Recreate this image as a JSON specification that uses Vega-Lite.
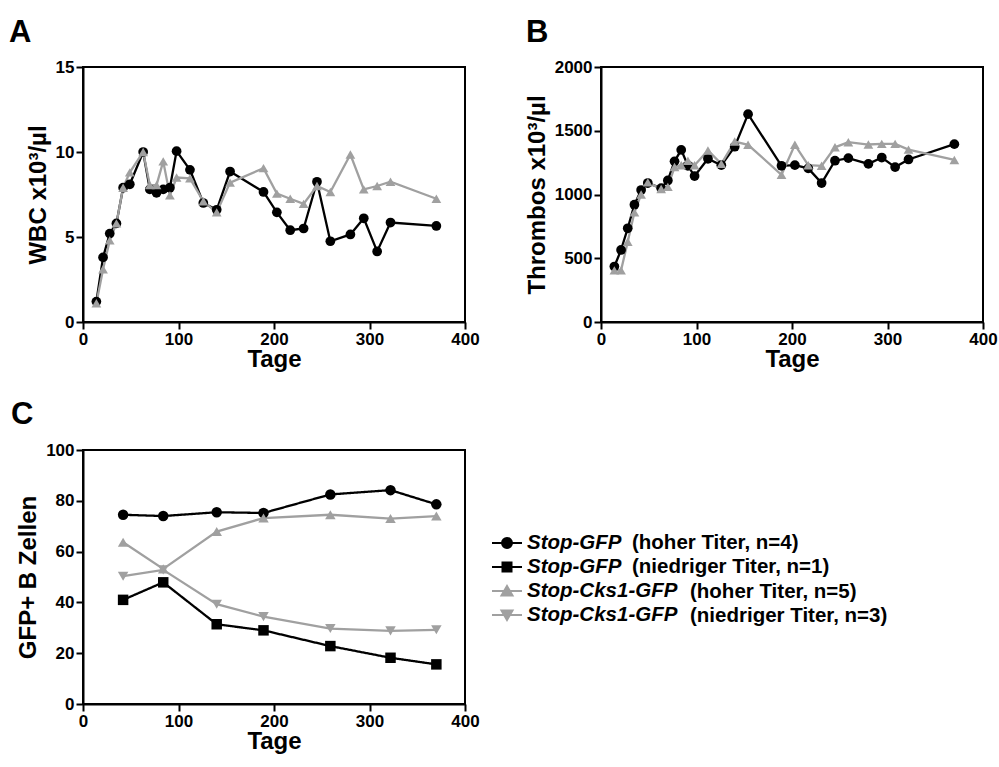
{
  "$schema": "https://vega.github.io/schema/vega-lite/v6.json",
  "background": "white",
  "padding": {"left": 8, "top": 16, "right": 0, "bottom": 0},
  "columns": 2,
  "spacing": {"row": 128, "column": 136},
  "bounds": "flush",
  "resolve": {
    "scale": {"color": "independent", "shape": "independent", "fill": "independent", "stroke": "independent", "strokeDash": "independent", "x": "independent", "y": "independent"},
    "legend": {"color": "independent", "shape": "independent", "fill": "independent", "stroke": "independent", "strokeDash": "independent"}
  },
  "datasets": {
    "blut": [
      {"tag": 14, "konstrukt": "Stop-GFP", "wbc": 1.2, "thrombos": 435},
      {"tag": 21, "konstrukt": "Stop-GFP", "wbc": 3.8, "thrombos": 565},
      {"tag": 28, "konstrukt": "Stop-GFP", "wbc": 5.2, "thrombos": 735},
      {"tag": 35, "konstrukt": "Stop-GFP", "wbc": 5.8, "thrombos": 920},
      {"tag": 42, "konstrukt": "Stop-GFP", "wbc": 7.9, "thrombos": 1035},
      {"tag": 49, "konstrukt": "Stop-GFP", "wbc": 8.1, "thrombos": 1090},
      {"tag": 63, "konstrukt": "Stop-GFP", "wbc": 10.0, "thrombos": 1050},
      {"tag": 70, "konstrukt": "Stop-GFP", "wbc": 7.8, "thrombos": 1110},
      {"tag": 77, "konstrukt": "Stop-GFP", "wbc": 7.6, "thrombos": 1260},
      {"tag": 84, "konstrukt": "Stop-GFP", "wbc": 7.8, "thrombos": 1350},
      {"tag": 91, "konstrukt": "Stop-GFP", "wbc": 7.9, "thrombos": 1225},
      {"tag": 98, "konstrukt": "Stop-GFP", "wbc": 10.05, "thrombos": 1145},
      {"tag": 112, "konstrukt": "Stop-GFP", "wbc": 8.95, "thrombos": 1280},
      {"tag": 126, "konstrukt": "Stop-GFP", "wbc": 7.0, "thrombos": 1230},
      {"tag": 140, "konstrukt": "Stop-GFP", "wbc": 6.6, "thrombos": 1375},
      {"tag": 154, "konstrukt": "Stop-GFP", "wbc": 8.85, "thrombos": 1630},
      {"tag": 189, "konstrukt": "Stop-GFP", "wbc": 7.65, "thrombos": 1225},
      {"tag": 203, "konstrukt": "Stop-GFP", "wbc": 6.45, "thrombos": 1230},
      {"tag": 217, "konstrukt": "Stop-GFP", "wbc": 5.4, "thrombos": 1205},
      {"tag": 231, "konstrukt": "Stop-GFP", "wbc": 5.5, "thrombos": 1090},
      {"tag": 245, "konstrukt": "Stop-GFP", "wbc": 8.25, "thrombos": 1265},
      {"tag": 259, "konstrukt": "Stop-GFP", "wbc": 4.75, "thrombos": 1285},
      {"tag": 280, "konstrukt": "Stop-GFP", "wbc": 5.15, "thrombos": 1240},
      {"tag": 294, "konstrukt": "Stop-GFP", "wbc": 6.1, "thrombos": 1290},
      {"tag": 308, "konstrukt": "Stop-GFP", "wbc": 4.15, "thrombos": 1215},
      {"tag": 322, "konstrukt": "Stop-GFP", "wbc": 5.85, "thrombos": 1275},
      {"tag": 370, "konstrukt": "Stop-GFP", "wbc": 5.65, "thrombos": 1395},
      {"tag": 14, "konstrukt": "Stop-Cks1-GFP", "wbc": 1.1, "thrombos": 405},
      {"tag": 21, "konstrukt": "Stop-Cks1-GFP", "wbc": 3.1, "thrombos": 405},
      {"tag": 28, "konstrukt": "Stop-Cks1-GFP", "wbc": 4.8, "thrombos": 630},
      {"tag": 35, "konstrukt": "Stop-Cks1-GFP", "wbc": 5.8, "thrombos": 860},
      {"tag": 42, "konstrukt": "Stop-Cks1-GFP", "wbc": 7.9, "thrombos": 1000},
      {"tag": 49, "konstrukt": "Stop-Cks1-GFP", "wbc": 8.8, "thrombos": 1095},
      {"tag": 63, "konstrukt": "Stop-Cks1-GFP", "wbc": 10.0, "thrombos": 1043},
      {"tag": 70, "konstrukt": "Stop-Cks1-GFP", "wbc": 8.05, "thrombos": 1060},
      {"tag": 77, "konstrukt": "Stop-Cks1-GFP", "wbc": 8.05, "thrombos": 1215},
      {"tag": 84, "konstrukt": "Stop-Cks1-GFP", "wbc": 9.45, "thrombos": 1230},
      {"tag": 91, "konstrukt": "Stop-Cks1-GFP", "wbc": 7.45, "thrombos": 1265},
      {"tag": 98, "konstrukt": "Stop-Cks1-GFP", "wbc": 8.5, "thrombos": 1230},
      {"tag": 112, "konstrukt": "Stop-Cks1-GFP", "wbc": 8.45, "thrombos": 1345},
      {"tag": 126, "konstrukt": "Stop-Cks1-GFP", "wbc": 7.1, "thrombos": 1240},
      {"tag": 140, "konstrukt": "Stop-Cks1-GFP", "wbc": 6.45, "thrombos": 1415},
      {"tag": 154, "konstrukt": "Stop-Cks1-GFP", "wbc": 8.2, "thrombos": 1390},
      {"tag": 189, "konstrukt": "Stop-Cks1-GFP", "wbc": 9.05, "thrombos": 1155},
      {"tag": 203, "konstrukt": "Stop-Cks1-GFP", "wbc": 7.55, "thrombos": 1390},
      {"tag": 217, "konstrukt": "Stop-Cks1-GFP", "wbc": 7.25, "thrombos": 1230},
      {"tag": 231, "konstrukt": "Stop-Cks1-GFP", "wbc": 6.95, "thrombos": 1225},
      {"tag": 245, "konstrukt": "Stop-Cks1-GFP", "wbc": 8.0, "thrombos": 1370},
      {"tag": 259, "konstrukt": "Stop-Cks1-GFP", "wbc": 7.65, "thrombos": 1410},
      {"tag": 280, "konstrukt": "Stop-Cks1-GFP", "wbc": 9.85, "thrombos": 1392},
      {"tag": 294, "konstrukt": "Stop-Cks1-GFP", "wbc": 7.8, "thrombos": 1397},
      {"tag": 308, "konstrukt": "Stop-Cks1-GFP", "wbc": 8.0, "thrombos": 1397},
      {"tag": 322, "konstrukt": "Stop-Cks1-GFP", "wbc": 8.25, "thrombos": 1352},
      {"tag": 370, "konstrukt": "Stop-Cks1-GFP", "wbc": 7.25, "thrombos": 1271}
    ],
    "gfp": [
      {"tag": 42, "serie": "Stop-GFP (hoher Titer, n=4)", "titer_gfp": "(hoher Titer, n=4)", "titer_cks1": null, "wert": 74.5},
      {"tag": 84, "serie": "Stop-GFP (hoher Titer, n=4)", "titer_gfp": "(hoher Titer, n=4)", "titer_cks1": null, "wert": 74.0},
      {"tag": 140, "serie": "Stop-GFP (hoher Titer, n=4)", "titer_gfp": "(hoher Titer, n=4)", "titer_cks1": null, "wert": 75.5},
      {"tag": 189, "serie": "Stop-GFP (hoher Titer, n=4)", "titer_gfp": "(hoher Titer, n=4)", "titer_cks1": null, "wert": 75.2},
      {"tag": 259, "serie": "Stop-GFP (hoher Titer, n=4)", "titer_gfp": "(hoher Titer, n=4)", "titer_cks1": null, "wert": 82.5},
      {"tag": 322, "serie": "Stop-GFP (hoher Titer, n=4)", "titer_gfp": "(hoher Titer, n=4)", "titer_cks1": null, "wert": 84.2},
      {"tag": 370, "serie": "Stop-GFP (hoher Titer, n=4)", "titer_gfp": "(hoher Titer, n=4)", "titer_cks1": null, "wert": 78.6},
      {"tag": 42, "serie": "Stop-GFP (niedriger Titer, n=1)", "titer_gfp": "(niedriger Titer, n=1)", "titer_cks1": null, "wert": 41.0},
      {"tag": 84, "serie": "Stop-GFP (niedriger Titer, n=1)", "titer_gfp": "(niedriger Titer, n=1)", "titer_cks1": null, "wert": 47.9},
      {"tag": 140, "serie": "Stop-GFP (niedriger Titer, n=1)", "titer_gfp": "(niedriger Titer, n=1)", "titer_cks1": null, "wert": 31.4},
      {"tag": 189, "serie": "Stop-GFP (niedriger Titer, n=1)", "titer_gfp": "(niedriger Titer, n=1)", "titer_cks1": null, "wert": 29.0},
      {"tag": 259, "serie": "Stop-GFP (niedriger Titer, n=1)", "titer_gfp": "(niedriger Titer, n=1)", "titer_cks1": null, "wert": 22.8},
      {"tag": 322, "serie": "Stop-GFP (niedriger Titer, n=1)", "titer_gfp": "(niedriger Titer, n=1)", "titer_cks1": null, "wert": 18.2},
      {"tag": 370, "serie": "Stop-GFP (niedriger Titer, n=1)", "titer_gfp": "(niedriger Titer, n=1)", "titer_cks1": null, "wert": 15.6},
      {"tag": 42, "serie": "Stop-Cks1-GFP (hoher Titer, n=5)", "titer_gfp": null, "titer_cks1": "(hoher Titer, n=5)", "wert": 63.7},
      {"tag": 84, "serie": "Stop-Cks1-GFP (hoher Titer, n=5)", "titer_gfp": null, "titer_cks1": "(hoher Titer, n=5)", "wert": 53.2},
      {"tag": 140, "serie": "Stop-Cks1-GFP (hoher Titer, n=5)", "titer_gfp": null, "titer_cks1": "(hoher Titer, n=5)", "wert": 67.9},
      {"tag": 189, "serie": "Stop-Cks1-GFP (hoher Titer, n=5)", "titer_gfp": null, "titer_cks1": "(hoher Titer, n=5)", "wert": 73.2},
      {"tag": 259, "serie": "Stop-Cks1-GFP (hoher Titer, n=5)", "titer_gfp": null, "titer_cks1": "(hoher Titer, n=5)", "wert": 74.5},
      {"tag": 322, "serie": "Stop-Cks1-GFP (hoher Titer, n=5)", "titer_gfp": null, "titer_cks1": "(hoher Titer, n=5)", "wert": 73.0},
      {"tag": 370, "serie": "Stop-Cks1-GFP (hoher Titer, n=5)", "titer_gfp": null, "titer_cks1": "(hoher Titer, n=5)", "wert": 74.0},
      {"tag": 42, "serie": "Stop-Cks1-GFP (niedriger Titer, n=3)", "titer_gfp": null, "titer_cks1": "(niedriger Titer, n=3)", "wert": 50.3},
      {"tag": 84, "serie": "Stop-Cks1-GFP (niedriger Titer, n=3)", "titer_gfp": null, "titer_cks1": "(niedriger Titer, n=3)", "wert": 52.8},
      {"tag": 140, "serie": "Stop-Cks1-GFP (niedriger Titer, n=3)", "titer_gfp": null, "titer_cks1": "(niedriger Titer, n=3)", "wert": 39.3},
      {"tag": 189, "serie": "Stop-Cks1-GFP (niedriger Titer, n=3)", "titer_gfp": null, "titer_cks1": "(niedriger Titer, n=3)", "wert": 34.4},
      {"tag": 259, "serie": "Stop-Cks1-GFP (niedriger Titer, n=3)", "titer_gfp": null, "titer_cks1": "(niedriger Titer, n=3)", "wert": 29.7},
      {"tag": 322, "serie": "Stop-Cks1-GFP (niedriger Titer, n=3)", "titer_gfp": null, "titer_cks1": "(niedriger Titer, n=3)", "wert": 28.8},
      {"tag": 370, "serie": "Stop-Cks1-GFP (niedriger Titer, n=3)", "titer_gfp": null, "titer_cks1": "(niedriger Titer, n=3)", "wert": 29.2}
    ]
  },
  "config": {
    "font": "Liberation Sans",
    "view": {"stroke": "black", "strokeWidth": 2},
    "axis": {
      "grid": false,
      "domainColor": "black", "domainWidth": 2,
      "tickColor": "black", "tickWidth": 2, "tickSize": 7,
      "labelFont": "Liberation Sans", "labelFontSize": 17, "labelFontWeight": "bold", "labelColor": "black",
      "labelPadding": 2, "labelFlush": false, "labelOverlap": false, "format": "d",
      "titleFont": "Liberation Sans", "titleFontSize": 24, "titleFontWeight": "bold", "titleColor": "black"
    },
    "axisX": {"titlePadding": 0},
    "axisY": {"titlePadding": 5},
    "legend": {
      "title": null, "orient": "none", "padding": 0, "symbolSize": 400, "symbolStrokeWidth": 2, "rowPadding": 2,
      "labelFont": "Liberation Sans", "labelFontSize": 20.5, "labelFontWeight": "bold", "labelColor": "black", "labelLimit": 400
    },
    "title": {"font": "Liberation Sans", "fontSize": 31, "fontWeight": "bold", "color": "black", "anchor": "start", "frame": "group", "baseline": "alphabetic"}
  },
  "concat": [
    {
      "width": 382, "height": 255,
      "title": {"text": "A", "dx": -74, "offset": 9},
      "data": {"name": "blut"},
      "encoding": {
        "x": {"field": "tag", "type": "quantitative", "title": "Tage", "scale": {"domain": [0, 400], "nice": false}, "axis": {"values": [0, 100, 200, 300, 400]}},
        "y": {"field": "wbc", "type": "quantitative", "title": "WBC x10³/µl", "scale": {"domain": [0, 15], "nice": false}, "axis": {"values": [0, 5, 10, 15]}},
        "color": {"field": "konstrukt", "type": "nominal", "scale": {"domain": ["Stop-GFP", "Stop-Cks1-GFP"], "range": ["black", "#a0a0a0"]}, "legend": null}
      },
      "layer": [
        {"mark": {"type": "line", "strokeWidth": 2.3}},
        {"mark": {"type": "point", "filled": true, "opacity": 1, "size": 95, "strokeWidth": 0},
         "encoding": {"shape": {"field": "konstrukt", "type": "nominal", "scale": {"domain": ["Stop-GFP", "Stop-Cks1-GFP"], "range": ["circle", "triangle-up"]}, "legend": null}}}
      ]
    },
    {
      "width": 382, "height": 255,
      "title": {"text": "B", "dx": -75, "offset": 9},
      "data": {"name": "blut"},
      "encoding": {
        "x": {"field": "tag", "type": "quantitative", "title": "Tage", "scale": {"domain": [0, 400], "nice": false}, "axis": {"values": [0, 100, 200, 300, 400]}},
        "y": {"field": "thrombos", "type": "quantitative", "title": "Thrombos x10³/µl", "scale": {"domain": [0, 2000], "nice": false}, "axis": {"values": [0, 500, 1000, 1500, 2000]}},
        "color": {"field": "konstrukt", "type": "nominal", "scale": {"domain": ["Stop-GFP", "Stop-Cks1-GFP"], "range": ["black", "#a0a0a0"]}, "legend": null}
      },
      "layer": [
        {"mark": {"type": "line", "strokeWidth": 2.3}},
        {"mark": {"type": "point", "filled": true, "opacity": 1, "size": 95, "strokeWidth": 0},
         "encoding": {"shape": {"field": "konstrukt", "type": "nominal", "scale": {"domain": ["Stop-GFP", "Stop-Cks1-GFP"], "range": ["circle", "triangle-up"]}, "legend": null}}}
      ]
    },
    {
      "width": 382, "height": 254,
      "title": {"text": "C", "dx": -72, "offset": 10},
      "data": {"name": "gfp"},
      "resolve": {
        "scale": {"shape": "independent", "fill": "independent", "stroke": "independent", "strokeDash": "independent"},
        "legend": {"shape": "independent", "fill": "independent", "stroke": "independent", "strokeDash": "independent"}
      },
      "encoding": {
        "x": {"field": "tag", "type": "quantitative", "title": "Tage", "scale": {"domain": [0, 400], "nice": false}, "axis": {"values": [0, 100, 200, 300, 400]}},
        "y": {"field": "wert", "type": "quantitative", "title": "GFP+ B Zellen", "scale": {"domain": [0, 100], "nice": false}, "axis": {"values": [0, 20, 40, 60, 80, 100]}}
      },
      "layer": [
        {"mark": {"type": "line", "strokeWidth": 2.3},
         "encoding": {
           "color": {"field": "serie", "type": "nominal",
             "scale": {"domain": ["Stop-GFP (hoher Titer, n=4)", "Stop-GFP (niedriger Titer, n=1)", "Stop-Cks1-GFP (hoher Titer, n=5)", "Stop-Cks1-GFP (niedriger Titer, n=3)"], "range": ["black", "black", "#a0a0a0", "#a0a0a0"]},
             "legend": null},
           "strokeDash": {
             "field": "titer_gfp", "type": "nominal",
             "scale": {"domain": ["(hoher Titer, n=4)", "(niedriger Titer, n=1)"], "range": [[1, 0], [1, 0]]},
             "legend": {"legendX": 527, "legendY": 82, "symbolOpacity": 0, "labelOffset": 0, "labelFontStyle": "normal"}
           }
         }},
        {"mark": {"type": "point", "filled": true, "opacity": 1, "size": 110, "strokeWidth": 0},
         "encoding": {
           "color": {"field": "serie", "type": "nominal",
             "scale": {"domain": ["Stop-GFP (hoher Titer, n=4)", "Stop-GFP (niedriger Titer, n=1)", "Stop-Cks1-GFP (hoher Titer, n=5)", "Stop-Cks1-GFP (niedriger Titer, n=3)"], "range": ["black", "black", "#a0a0a0", "#a0a0a0"]},
             "legend": null},
           "shape": {
             "field": "serie", "type": "nominal",
             "scale": {"domain": ["Stop-GFP (hoher Titer, n=4)", "Stop-GFP (niedriger Titer, n=1)", "Stop-Cks1-GFP (hoher Titer, n=5)", "Stop-Cks1-GFP (niedriger Titer, n=3)"], "range": ["circle", "square", "triangle-up", "triangle-down"]},
             "legend": null
           }
         }},
        {"mark": {"type": "point", "filled": true, "opacity": 0, "size": 110},
         "encoding": {
           "fill": {"field": "serie", "type": "nominal",
             "scale": {"domain": ["Stop-GFP (hoher Titer, n=4)", "Stop-GFP (niedriger Titer, n=1)", "Stop-Cks1-GFP (hoher Titer, n=5)", "Stop-Cks1-GFP (niedriger Titer, n=3)"], "range": ["black", "black", "#a0a0a0", "#a0a0a0"]},
             "legend": {"legendX": 413, "legendY": 82, "symbolOpacity": 1, "labelOffset": 9, "labelFontStyle": "italic", "labelExpr": "slice(datum.value, 0, indexof(datum.value, ' ('))"}},
           "stroke": {"field": "serie", "type": "nominal",
             "scale": {"domain": ["Stop-GFP (hoher Titer, n=4)", "Stop-GFP (niedriger Titer, n=1)", "Stop-Cks1-GFP (hoher Titer, n=5)", "Stop-Cks1-GFP (niedriger Titer, n=3)"], "range": ["black", "black", "#a0a0a0", "#a0a0a0"]},
             "legend": {"legendX": 413, "legendY": 82, "symbolOpacity": 1, "labelOffset": 9, "labelFontStyle": "italic", "labelExpr": "slice(datum.value, 0, indexof(datum.value, ' ('))"}},
           "shape": {"field": "serie", "type": "nominal",
             "scale": {"domain": ["Stop-GFP (hoher Titer, n=4)", "Stop-GFP (niedriger Titer, n=1)", "Stop-Cks1-GFP (hoher Titer, n=5)", "Stop-Cks1-GFP (niedriger Titer, n=3)"],
               "range": ["M-1.5,0H1.5M-0.5,0A0.5,0.5,0,1,1,0.5,0A0.5,0.5,0,1,1,-0.5,0Z", "M-1.5,0H1.5M-0.45,-0.45H0.45V0.45H-0.45Z", "M-1.5,0H1.5M0,-0.5L0.55,0.45H-0.55Z", "M-1.5,0H1.5M0,0.5L0.55,-0.45H-0.55Z"]},
             "legend": {"legendX": 413, "legendY": 82, "symbolOpacity": 1, "labelOffset": 9, "labelFontStyle": "italic", "labelExpr": "slice(datum.value, 0, indexof(datum.value, ' ('))"}},
           "strokeDash": {
             "field": "titer_cks1", "type": "nominal",
             "scale": {"domain": ["(hoher Titer, n=5)", "(niedriger Titer, n=3)"], "range": [[1, 0], [1, 0]]},
             "legend": {"legendX": 585, "legendY": 131, "symbolOpacity": 0, "labelOffset": 0, "labelFontStyle": "normal"}
           }
         }}
      ]
    }
  ]
}
